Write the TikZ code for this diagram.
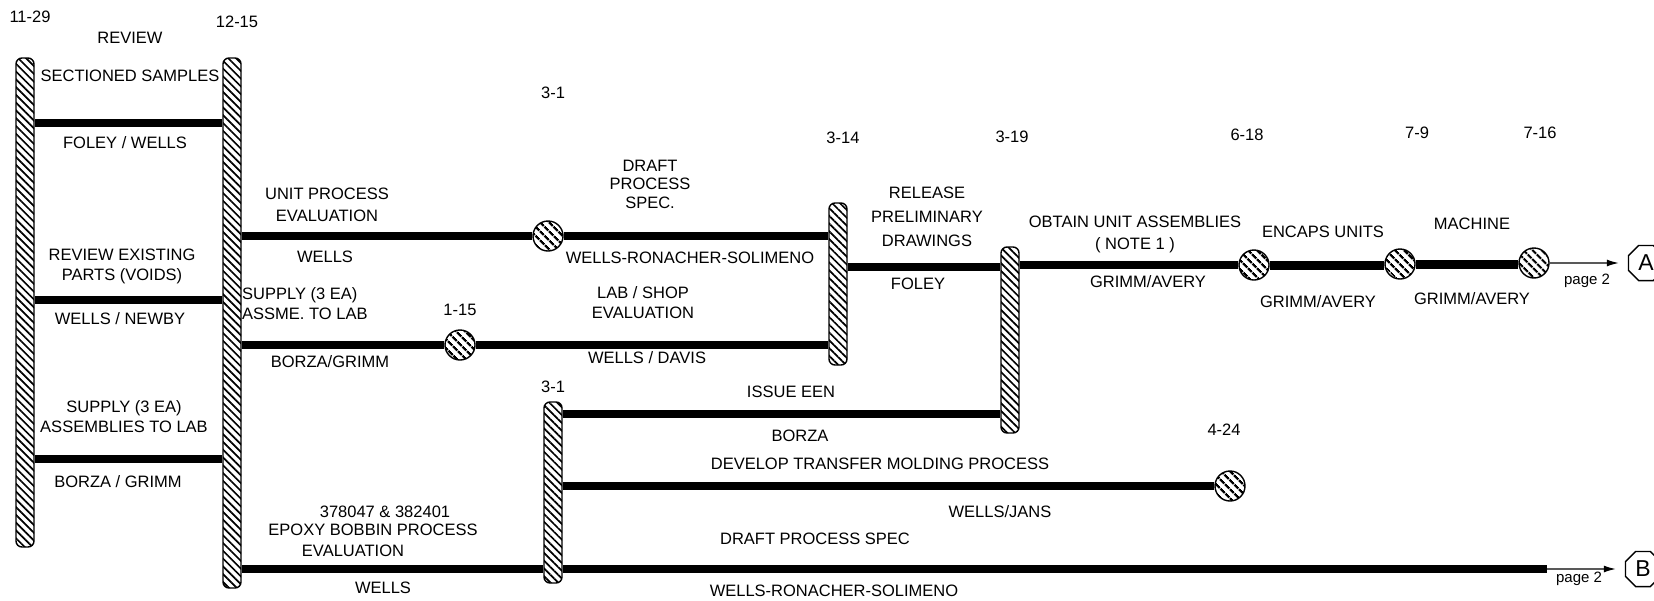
\documentclass[tikz,border=0pt]{standalone}
\usepackage{fontspec}
\setmainfont{Liberation Sans}
\usetikzlibrary{patterns.meta,arrows.meta,shapes.geometric}
\begin{document}
\begin{tikzpicture}[x=1pt,y=-1pt,
  lbl/.style={font=\fontsize{16.5}{20}\selectfont, inner sep=0pt, align=center},
  pg/.style={font=\fontsize{15}{16}\selectfont, inner sep=0pt},
  bar/.style={draw, line width=1.4pt, rounded corners=6pt, minimum width=18pt, inner sep=0pt,
    pattern={Lines[angle=-45,distance=5.5pt,line width=1.7pt]}},
  ms/.style={circle, draw, line width=1.4pt, minimum size=30pt, inner sep=0pt,
    pattern={Lines[angle=-45,distance=6.5pt,line width=2.4pt]}},
  task/.style={line width=8pt},
  flow/.style={line width=1.2pt, -{Latex[length=12pt,width=7pt]}},
  conn/.style={draw, regular polygon, regular polygon sides=8, minimum size=38pt, inner sep=0pt,
    line width=1.4pt, font=\fontsize{23}{23}\selectfont}
]
\path[use as bounding box, clip] (0,0) rectangle (1654,600);

% bars
\node[bar, minimum height=489pt] (b1) at (25,302.5) {};
\node[bar, minimum height=530pt] (b2) at (232,323) {};
\node[bar, minimum height=162pt] (b3) at (838,284) {};
\node[bar, minimum height=186pt] (b4) at (1010,340) {};
\node[bar, minimum height=181pt] (b5) at (553,492.5) {};

% milestones
\node[ms] (c1) at (548,236) {};
\node[ms] (c2) at (460,345) {};
\node[ms] (c3) at (1254,265) {};
\node[ms] (c4) at (1400,264) {};
\node[ms] (c5) at (1534,263) {};
\node[ms] (c6) at (1230,486) {};

% off-page connectors
\node[conn] (A) at (1646,263) {A};
\node[conn] (B) at (1643,569) {B};
\coordinate (bend) at (1547,569);

% task lines
\draw[task] (b1.east |- 0,123) -- (b2.west |- 0,123);
\draw[task] (b1.east |- 0,300) -- (b2.west |- 0,300);
\draw[task] (b1.east |- 0,459) -- (b2.west |- 0,459);
\draw[task] (b2.east |- c1) -- (c1.west);
\draw[task] (c1.east) -- (b3.west |- c1);
\draw[task] (b2.east |- c2) -- (c2.west);
\draw[task] (c2.east) -- (b3.west |- c2);
\draw[task] (b3.east |- 0,267) -- (b4.west |- 0,267);
\draw[task] (b4.east |- c3) -- (c3.west);
\draw[task, line width=9pt] (c3.east) -- (c4.west |- c3);
\draw[task, line width=9pt] (c4.east) -- (c5.west |- c4);
\draw[flow] (c5.east) -- ([xshift=-9pt]A.west);
\draw[task] (b5.east |- 0,414) -- (b4.west |- 0,414);
\draw[task] (b5.east |- c6) -- (c6.west);
\draw[task] (b2.east |- 0,569) -- (b5.west |- 0,569);
\draw[task] (b5.east |- bend) -- (bend);
\draw[flow] (bend) -- ([xshift=-9pt]B.west);

% labels
\node[lbl] (d1129) at (30,17) {11-29};
\node[lbl] (t1) at (130,38) {REVIEW};
\node[lbl] (d1215) at (237,22) {12-15};
\node[lbl] (t2) at (130,76) {SECTIONED SAMPLES};
\node[lbl] (r1) at (125,143) {FOLEY / WELLS};
\node[lbl] (t3) at (122,266) {REVIEW EXISTING\\PARTS (VOIDS)};
\node[lbl] (r2) at (120,319) {WELLS / NEWBY};
\node[lbl] (t4) at (124,417) {SUPPLY (3 EA)\\ASSEMBLIES TO LAB};
\node[lbl] (r3) at (118,482) {BORZA / GRIMM};

\node[lbl] (d31a) at (553,93) {3-1};
\node[lbl, font=\fontsize{16.5}{22}\selectfont] (t5) at (327,205) {UNIT PROCESS\\EVALUATION};
\node[lbl] (r5) at (325,257) {WELLS};
\node[lbl, anchor=west, align=left] (t6) at (242,304) {SUPPLY (3 EA)\\ASSME. TO LAB};
\node[lbl] (d115) at (460,310) {1-15};
\node[lbl] (r6) at (330,362) {BORZA/GRIMM};

\node[lbl, font=\fontsize{16.5}{18.5}\selectfont] (t7) at (650,184) {DRAFT\\PROCESS\\SPEC.};
\node[lbl] (r7) at (690,258) {WELLS-RONACHER-SOLIMENO};
\node[lbl] (t8) at (643,303) {LAB / SHOP\\EVALUATION};
\node[lbl] (r8) at (647,358) {WELLS / DAVIS};

\node[lbl] (d314) at (843,138) {3-14};
\node[lbl, font=\fontsize{16.5}{24}\selectfont] (t9) at (927,217) {RELEASE\\PRELIMINARY\\DRAWINGS};
\node[lbl] (r9) at (918,284) {FOLEY};
\node[lbl] (d319) at (1012,137) {3-19};
\node[lbl, font=\fontsize{16.5}{22}\selectfont] (t10) at (1135,234) {OBTAIN UNIT ASSEMBLIES\\( NOTE 1 )};
\node[lbl] (r10) at (1148,282) {GRIMM/AVERY};

\node[lbl] (d618) at (1247,135) {6-18};
\node[lbl] (t11) at (1323,232) {ENCAPS UNITS};
\node[lbl] (r11) at (1318,302) {GRIMM/AVERY};
\node[lbl] (d79) at (1417,133) {7-9};
\node[lbl] (t12) at (1472,224) {MACHINE};
\node[lbl] (r12) at (1472,299) {GRIMM/AVERY};
\node[lbl] (d716) at (1540,133) {7-16};
\node[pg] (p1) at (1587,281) {page 2};

\node[lbl] (d31b) at (553,387) {3-1};
\node[lbl] (t13) at (791,392) {ISSUE EEN};
\node[lbl] (r13) at (800,436) {BORZA};
\node[lbl] (d424) at (1224,430) {4-24};
\node[lbl] (t14) at (880,464) {DEVELOP TRANSFER MOLDING PROCESS};
\node[lbl] (r14) at (1000,512) {WELLS/JANS};
\node[lbl] (t15) at (815,539) {DRAFT PROCESS SPEC};
\node[lbl] (r15) at (834,591) {WELLS-RONACHER-SOLIMENO};
\node[pg] (p2) at (1579,579) {page 2};

\node[lbl] (t16a) at (385,512) {378047 \& 382401};
\node[lbl] (t16b) at (373,530) {EPOXY BOBBIN PROCESS};
\node[lbl] (t16c) at (353,551) {EVALUATION};
\node[lbl] (r16) at (383,588) {WELLS};
\end{tikzpicture}
\end{document}
